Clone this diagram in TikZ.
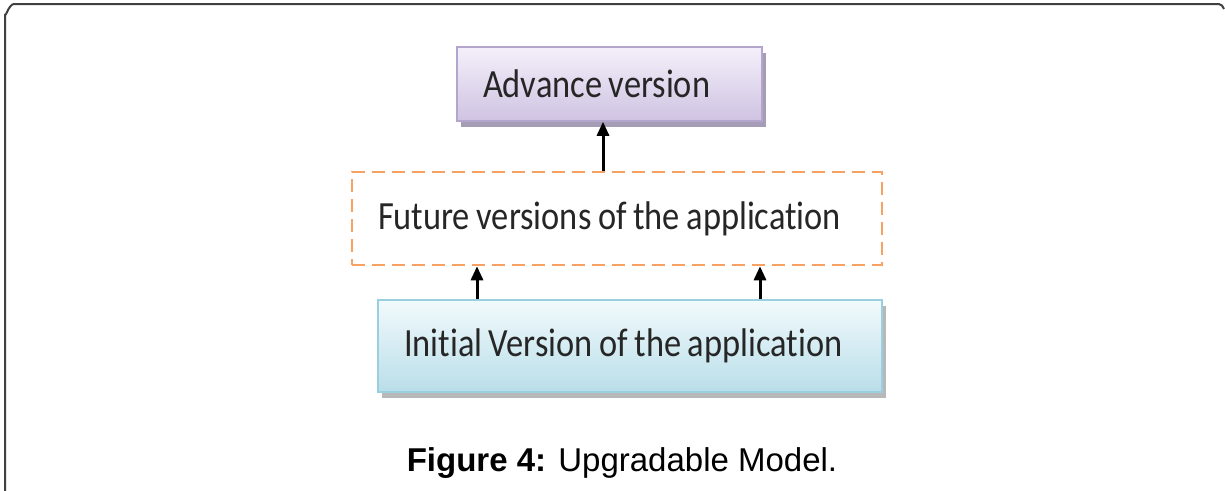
\documentclass[tikz,border=0pt]{standalone}
\usepackage{fontspec}
\setmainfont[FakeStretch=0.86,WordSpace=0.85,RawFeature=-liga]{Carlito}
\newfontfamily\capfont{Liberation Sans}
\usetikzlibrary{shadows,arrows.meta}
\definecolor{lavtop}{HTML}{F4F0FA}
\definecolor{lavbot}{HTML}{CFC3E2}
\definecolor{lavdraw}{HTML}{B3A5CC}
\definecolor{cyantop}{HTML}{F2FAFC}
\definecolor{cyanbot}{HTML}{B9DEE9}
\definecolor{cyandraw}{HTML}{9ACFE0}
\definecolor{dashorange}{HTML}{F7A263}
\tikzset{
  boxbase/.style={rectangle, inner xsep=26pt, inner ysep=0pt, align=flush left,
     font=\fontsize{40}{44}\selectfont, text=black!85},
  advbox/.style={boxbase, top color=lavtop, bottom color=lavbot, draw=lavdraw, line width=1.5pt,
     drop shadow={shadow xshift=4pt, shadow yshift=-6pt, fill=lavdraw!80!black, opacity=0.8}},
  initbox/.style={boxbase, top color=cyantop, bottom color=cyanbot, draw=cyandraw, line width=1.5pt,
     drop shadow={shadow xshift=4pt, shadow yshift=-6pt, fill=gray!70, opacity=0.8}},
  futbox/.style={boxbase, draw=dashorange, line width=2.5pt, dash pattern=on 13pt off 7pt},
  conn/.style={-{Triangle[length=14pt,width=12pt]}, line width=3pt, black},
  frame/.style={line width=2pt, draw=black!75}
}
\begin{document}
\begin{tikzpicture}[x=1pt,y=-1pt]
\useasboundingbox (0,0) rectangle (1225,490);
\draw[frame] (5,491) -- (5,14) to[out=-90,in=180] (14,4) -- (1219,4) to[out=0,in=120] (1224,9);

\node[advbox, text width=253pt, minimum height=74pt] (adv) at (609.5,84) {\raisebox{-4pt}{Advance version}};
\node[futbox, text width=478pt, minimum height=93pt] (fut) at (617,218.5) {\raisebox{3pt}{Future versions of the application}};
\node[initbox, text width=452pt, minimum height=92pt] (init) at (630,346) {\mbox{Initial Version of the application}};

\draw[conn] (init.north -| 477,0) -- (fut.south -| 477,0);
\draw[conn] (init.north -| 760,0) -- (fut.south -| 760,0);
\draw[conn] (fut.north -| 603,0) -- (adv.south -| 603,0);

\node[font=\capfont\fontsize{33}{38}\selectfont] (cap) at (622,463) {\textbf{Figure 4:} Upgradable Model.};
\end{tikzpicture}
\end{document}
